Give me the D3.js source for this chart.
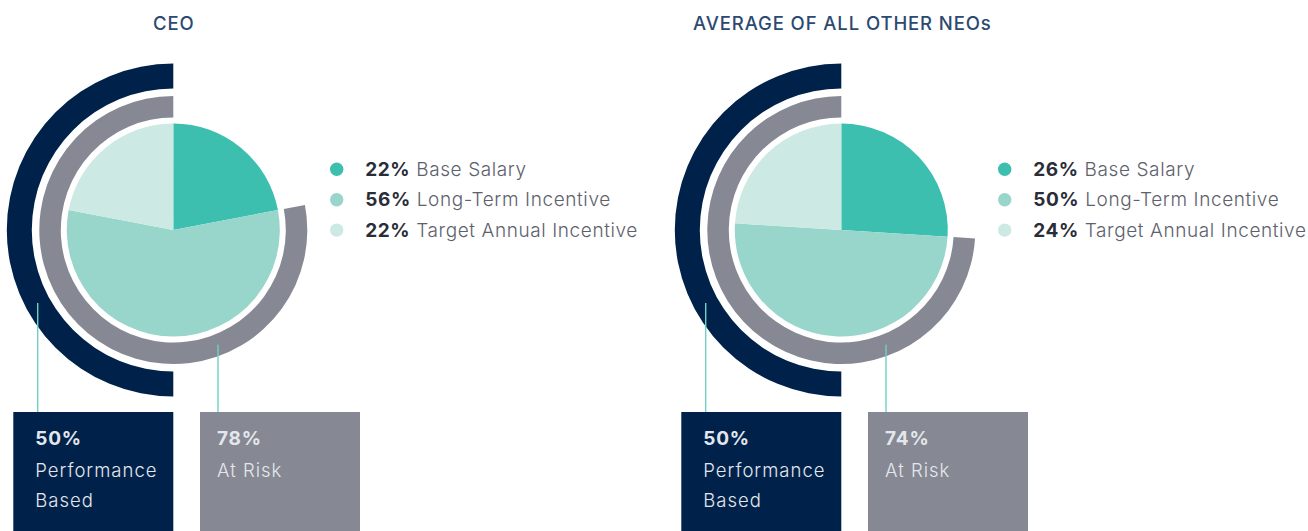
<!DOCTYPE html>
<html>
<head>
<meta charset="utf-8">
<script src="https://cdn.jsdelivr.net/npm/d3@7"></script>
<style>
  html, body { margin: 0; padding: 0; background: #ffffff; }
  svg { display: block; }
  text { font-family: Inter, "Open Sans", sans-serif; }
</style>
</head>
<body>
<div id="chart"></div>
<script>
// Pay-mix data for each group
const groups = ["CEO", "AVERAGE OF ALL OTHER NEOs"];
const components = ["Base Salary", "Long-Term Incentive", "Target Annual Incentive"];
const ceoMix = [22, 56, 22];
const neoMix = [26, 50, 24];
const performanceBased = [50, 50];
const atRisk = [78, 74];
const mixes = [ceoMix, neoMix];

const W = 1308, H = 531;
const colors = {
  navy: "#00224a",
  gray: "#868993",
  link: "#6fd1c4",
  title: "#2b4a72",
  pct: "#2a2d38",
  label: "#5d616c",
  boxText: "#e3e7ed"
};
const sliceColor = d3.scaleOrdinal()
  .domain(components)
  .range(["#3dbfb0", "#98d5cb", "#cce9e4"]);

const svg = d3.select("#chart").append("svg")
  .attr("width", W).attr("height", H);

// horizontal placement of each group panel
const panelX = d3.scalePoint().domain(groups).range([0, 668]);

const cx = 173.3, cy = 230;
const pieR = 106.5;
const riskR = [112.5, 134];
const perfR = [141.5, 166.5];

const pie = d3.pie().sort(null).value(d => d.value);
const sliceArc = d3.arc().innerRadius(0).outerRadius(pieR);
const pct = d3.scaleLinear().domain([0, 100]).range([0, 2 * Math.PI]);

groups.forEach((g, gi) => {
  const panel = svg.append("g").attr("transform", `translate(${panelX(g)},0)`);
  const mix = components.map((c, i) => ({ key: c, value: mixes[gi][i] }));

  // title
  panel.append("text")
    .attr("x", gi === 0 ? 153 : 25)
    .attr("y", 29.5)
    .attr("font-family", "Roboto, sans-serif")
    .attr("font-weight", 500)
    .attr("font-size", 18.5)
    .attr("letter-spacing", 0.9)
    .attr("fill", colors.title)
    .text(g);

  const chart = panel.append("g").attr("transform", `translate(${cx},${cy})`);

  // outer ring: performance based share, counter-clockwise from the top
  chart.append("path")
    .attr("fill", colors.navy)
    .attr("d", d3.arc()({ innerRadius: perfR[0], outerRadius: perfR[1],
      startAngle: -pct(performanceBased[gi]), endAngle: 0 }));

  // middle ring: at-risk share
  chart.append("path")
    .attr("fill", colors.gray)
    .attr("d", d3.arc()({ innerRadius: riskR[0], outerRadius: riskR[1],
      startAngle: -pct(atRisk[gi]), endAngle: 0 }));

  // pie of pay components
  chart.selectAll("path.slice")
    .data(pie(mix))
    .join("path")
    .attr("class", "slice")
    .attr("fill", d => sliceColor(d.data.key))
    .attr("d", sliceArc);

  // connector lines from ring midpoints down to the boxes
  const boxTop = 412;
  const perfMid = (perfR[0] + perfR[1]) / 2;
  const riskMid = (riskR[0] + riskR[1]) / 2;
  const perfLx = -135.6, riskLx = 44.7;
  const links = [
    { x: perfLx, y0: Math.sqrt(perfMid * perfMid - perfLx * perfLx) },
    { x: riskLx, y0: Math.sqrt(riskMid * riskMid - riskLx * riskLx) }
  ];
  chart.selectAll("line.link")
    .data(links)
    .join("line")
    .attr("class", "link")
    .attr("x1", d => d.x).attr("x2", d => d.x)
    .attr("y1", d => d.y0).attr("y2", boxTop - cy)
    .attr("stroke", colors.link)
    .attr("stroke-width", 1.4);

  // summary boxes
  const boxes = [
    { x: 13.3, inset: 22, fill: colors.navy, value: performanceBased[gi], lines: ["Performance", "Based"] },
    { x: 200, inset: 17, fill: colors.gray, value: atRisk[gi], lines: ["At Risk"] }
  ];
  const box = panel.selectAll("g.box")
    .data(boxes)
    .join("g")
    .attr("class", "box")
    .attr("transform", d => `translate(${d.x},${boxTop})`);
  box.append("rect")
    .attr("width", 160).attr("height", H - boxTop + 5)
    .attr("fill", d => d.fill);
  box.append("text")
    .attr("x", d => d.inset).attr("y", 33)
    .attr("font-size", 19).attr("font-weight", 700)
    .attr("letter-spacing", 0.8)
    .attr("fill", colors.boxText)
    .text(d => `${d.value}%`);
  box.each(function (d) {
    d3.select(this).selectAll("text.line")
      .data(d.lines)
      .join("text")
      .attr("class", "line")
      .attr("x", d.inset)
      .attr("y", (t, i) => 64.5 + i * 30)
      .attr("font-size", 18.5)
      .attr("font-weight", 300)
      .attr("letter-spacing", 1)
      .attr("fill", colors.boxText)
      .text(t => t);
  });

  // legend
  const legend = panel.append("g").attr("transform", "translate(336.7,169.3)");
  const row = legend.selectAll("g.row")
    .data(mix)
    .join("g")
    .attr("class", "row")
    .attr("transform", (d, i) => `translate(0,${i * 30.4})`);
  row.append("circle")
    .attr("r", 6.7)
    .attr("fill", d => sliceColor(d.key));
  const label = row.append("text")
    .attr("x", 28.5).attr("y", 6.5)
    .attr("font-size", 19)
    .attr("letter-spacing", 0.6);
  label.append("tspan")
    .attr("font-weight", 700)
    .attr("fill", colors.pct)
    .text(d => `${d.value}%`);
  label.append("tspan")
    .attr("font-weight", 300)
    .attr("fill", colors.label)
    .text(d => ` ${d.key}`);
});
</script>
</body>
</html>
